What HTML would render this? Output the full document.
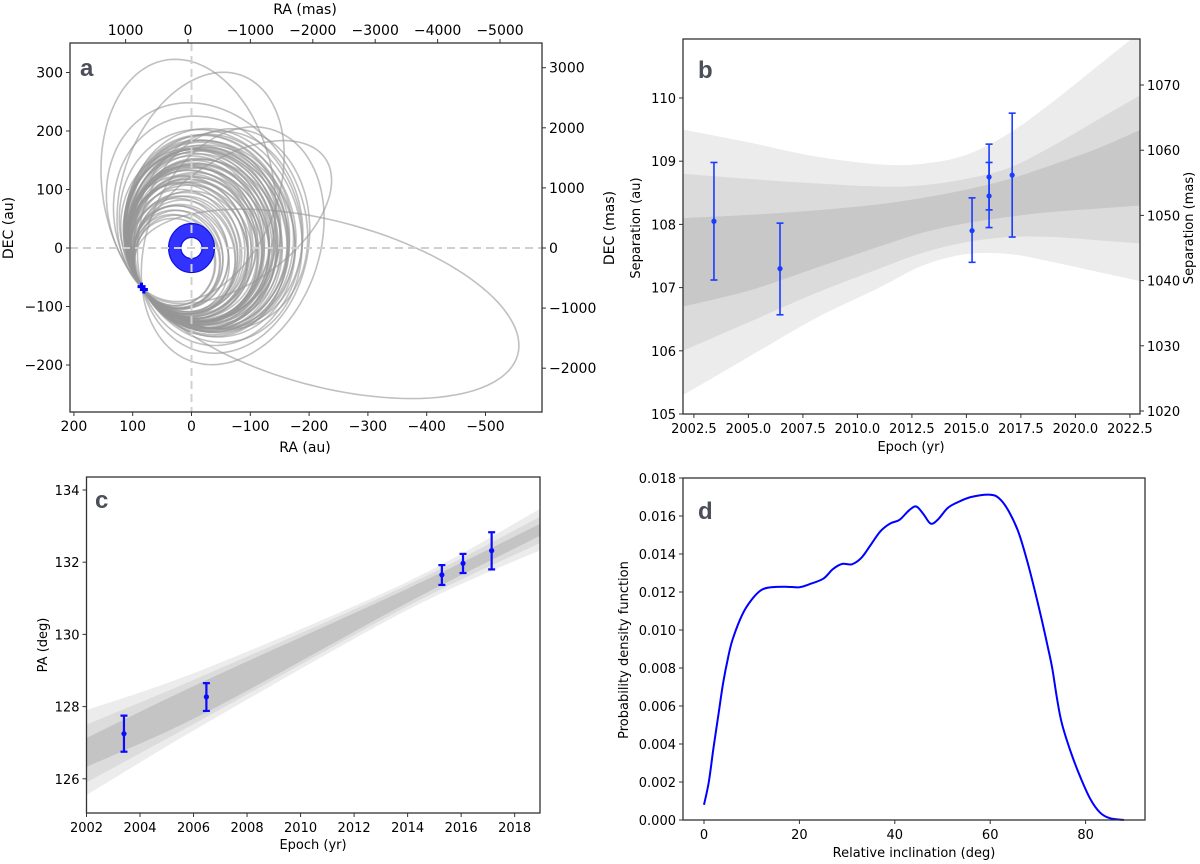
<!DOCTYPE html>
<html><head><meta charset="utf-8"><style>
html,body{margin:0;padding:0;background:#fff;}
svg{display:block;font-family:"DejaVu Sans","Liberation Sans",sans-serif;}
text{fill:#000;}
.tk{font-size:13px;}
.tka{font-size:14px;}
.lab{font-size:13px;}
.labb{font-size:14px;}
.pl{font-size:24px;font-weight:bold;fill:#4a4f5a;font-family:"Liberation Sans",sans-serif;}
</style></head><body>
<svg id="fig" width="1200" height="864" viewBox="0 0 1200 864">
<g id="pa"></g>
<g id="pb"></g>
<g id="pc"></g>
<g id="pd"></g>
</svg>
<script>
// ---------- Panel a data ----------
const orbitSize = [70,72,74,76,78,80,82,84,86,88,90,92,94,96,98,100,101,102,104,105,106,108,109,110,111,112,113,114,115,116,117,118,119,120,121,122,123,124,125,126,127,128,129,130,131,132,133,134,135,136,137,138,139,140,141,142,143,144,145,146,148,150,152,155,158,160,165,170,186,199,191,315];
const orbitDir = [141,139,143,140,142,138,144,141,137,145,140,143,139,142,136,146,141,138,144,140,135,147,142,139,143,137,145,141,138,144,140,136,146,142,139,143,141,137,145,140,138,144,142,136,146,141,139,143,140,137,145,142,138,144,141,136,146,140,143,139,142,138,144,147,135,150,132,155,115,120,144,185];
const orbitTheta = [80,78,82,76,84,80,74,86,79,81,72,88,77,83,75,90,70,80,78,85,73,82,68,92,76,84,79,71,87,80,74,89,78,69,86,81,77,83,75,88,72,80,85,70,78,82,76,84,73,87,79,71,86,80,74,89,77,83,75,81,85,70,78,95,66,100,62,110,80,110,145,15];
const orbitRatio = [0.92,0.90,0.91,0.88,0.90,0.89,0.87,0.91,0.88,0.86,0.89,0.87,0.85,0.90,0.86,0.88,0.84,0.87,0.89,0.85,0.88,0.86,0.90,0.84,0.87,0.85,0.89,0.86,0.83,0.88,0.85,0.87,0.84,0.89,0.82,0.86,0.88,0.83,0.87,0.85,0.84,0.86,0.82,0.85,0.88,0.84,0.86,0.83,0.87,0.85,0.82,0.88,0.84,0.86,0.83,0.87,0.85,0.81,0.86,0.84,0.82,0.85,0.80,0.78,0.83,0.75,0.80,0.70,0.65,0.65,0.55,0.42];
const periPoint = [84,-68];
const diskCenter = [0,0];
const diskOuter = [39,42];
const diskInner = [18,18];
const crossRA = [85,81];
const crossDEC = [-66,-71];
const aRaTicks = [200,100,0,-100,-200,-300,-400,-500];
const aDecTicks = [300,200,100,0,-100,-200];
const aMasTopTicks = [1000,0,-1000,-2000,-3000,-4000,-5000];
const aMasRightTicks = [3000,2000,1000,0,-1000,-2000];

// ---------- Panel b data ----------
const bEpoch = [2003.42,2006.45,2015.26,2016.04,2016.04,2017.10];
const bSep = [108.05,107.30,107.90,108.75,108.45,108.78];
const bLo = [107.12,106.57,107.40,108.23,107.95,107.80];
const bHi = [108.98,108.02,108.42,109.27,108.98,109.76];
const bBandX = [2002,2005,2008,2011,2013,2015,2017,2019,2021,2023];
const bOuterHi = [109.5,109.3,109.08,108.95,108.96,109.1,109.45,109.95,110.5,111.05];
const bOuterLo = [105.3,105.9,106.5,107.0,107.35,107.53,107.53,107.4,107.25,107.1];
const bMidHi = [108.8,108.72,108.65,108.6,108.62,108.72,108.9,109.25,109.65,110.05];
const bMidLo = [106.0,106.45,106.9,107.3,107.55,107.72,107.8,107.8,107.75,107.7];
const bInHi = [108.1,108.15,108.22,108.32,108.42,108.55,108.72,108.95,109.2,109.5];
const bInLo = [106.7,106.95,107.3,107.65,107.87,108.02,108.12,108.2,108.25,108.3];
const bXTicks = [2002.5,2005,2007.5,2010,2012.5,2015,2017.5,2020,2022.5];
const bYTicks = [105,106,107,108,109,110];
const bMasTicks = [1020,1030,1040,1050,1060,1070];

// ---------- Panel c data ----------
const cEpoch = [2003.4,2006.48,2015.28,2016.07,2017.14];
const cPA = [127.25,128.27,131.65,131.97,132.32];
const cLo = [126.75,127.88,131.37,131.70,131.80];
const cHi = [127.75,128.65,131.92,132.23,132.83];
const cBandX = [2002,2006.5,2014,2019];
const cOuterHi = [127.9,129.07,131.46,133.5];
const cOuterLo = [125.55,127.55,130.68,132.35];
const cMidHi = [127.5,128.9,131.37,133.28];
const cMidLo = [125.9,127.72,130.78,132.55];
const cInHi = [127.13,128.74,131.27,133.08];
const cInLo = [126.33,127.85,130.88,132.75];
const cXTicks = [2002,2004,2006,2008,2010,2012,2014,2016,2018];
const cYTicks = [126,128,130,132,134];

// ---------- Panel d data ----------
const dIncl = [0,1,2,3,4,5,6,8,10,12,14,17,20,22,25,27,29,31,33,35,37,39,41,43,44.5,46,47.5,49,51,53,56,60,62,64,66,68,70,72,73,74,75,77,79,81,83,85,88];
const dPdf = [0.0008,0.002,0.0038,0.0055,0.0072,0.0085,0.0095,0.0108,0.0116,0.0121,0.01225,0.01228,0.01225,0.0124,0.0127,0.0132,0.01348,0.01346,0.0138,0.0145,0.0152,0.0156,0.0158,0.0163,0.0165,0.0161,0.0156,0.0158,0.0164,0.0167,0.0170,0.01712,0.0169,0.0162,0.0151,0.0134,0.0114,0.0092,0.0080,0.0064,0.0051,0.0035,0.0022,0.0011,0.0004,0.0001,0.0];
const dXTicks = [0,20,40,60,80];
const dYTicks = [0,0.002,0.004,0.006,0.008,0.010,0.012,0.014,0.016,0.018];

const NS = "http://www.w3.org/2000/svg";
function mk(parent, tag, attrs){const e=document.createElementNS(NS,tag);for(const k in attrs)e.setAttribute(k,attrs[k]);parent.appendChild(e);return e;}
function fmt(v){return v<0?"\u2212"+String(-v):String(v);}
function smooth(pts, start){
  let d=(start?"M":"L")+pts[0][0].toFixed(1)+","+pts[0][1].toFixed(1);
  for(let i=0;i<pts.length-1;i++){
    const p0=pts[Math.max(0,i-1)],p1=pts[i],p2=pts[i+1],p3=pts[Math.min(pts.length-1,i+2)];
    const c1=[p1[0]+(p2[0]-p0[0])/6,p1[1]+(p2[1]-p0[1])/6];
    const c2=[p2[0]-(p3[0]-p1[0])/6,p2[1]-(p3[1]-p1[1])/6];
    d+="C"+c1[0].toFixed(1)+","+c1[1].toFixed(1)+" "+c2[0].toFixed(1)+","+c2[1].toFixed(1)+" "+p2[0].toFixed(1)+","+p2[1].toFixed(1);
  }
  return d;
}

function frame(g, x0,y0,x1,y1, name){
  const r = mk(g,"rect",{x:x0,y:y0,width:x1-x0,height:y1-y0,fill:"none",stroke:"#333","stroke-width":1.3});
  
  
}
function label(g,x,y,txt,cls,anchor,rot,name){
  const t = mk(g,"text",{x:x,y:y,"class":cls,"text-anchor":anchor||"middle"});
  if(rot) t.setAttribute("transform","rotate(-90 "+x+" "+y+")");
  t.textContent = txt;
  
  
  return t;
}
function xTicks(g,ticks,sx,yb,cls,dir,fmtf,name){
  ticks.forEach(v=>{
    const x=sx(v);
    const l=mk(g,"line",{x1:x,x2:x,y1:yb,y2:yb+dir*4,stroke:"#333","stroke-width":1});
    
    
    label(g,x,dir>0?yb+19:yb-8,fmtf(v),cls,"middle",false,name+'-label');
  });
}
function yTicks(g,ticks,sy,xb,cls,dir,fmtf,name){
  ticks.forEach(v=>{
    const y=sy(v);
    const l=mk(g,"line",{x1:xb,x2:xb+dir*4,y1:y,y2:y,stroke:"#333","stroke-width":1});
    
    
    label(g,dir<0?xb-7:xb+7,y+5,fmtf(v),cls,dir<0?"end":"start",false,name+'-label');
  });
}
function band(g,xs,lo,hi,sx,sy,fill,name,sm){
  const top=xs.map((x,i)=>[sx(x),sy(hi[i])]);
  const bot=xs.map((x,i)=>[sx(x),sy(lo[i])]).reverse();
  let d;
  if(sm) d=smooth(top,true)+smooth(bot,false)+"Z";
  else d="M"+top.map(p=>p.join(",")).join("L")+"L"+bot.map(p=>p.join(",")).join("L")+"Z";
  const p=mk(g,"path",{d:d,fill:fill,stroke:"none"});
  
  
}
function errbars(g,xs,ys,lo,hi,sx,sy,color,w,name){
  xs.forEach((x,i)=>{
    const X=sx(x);
    const grp=mk(g,"g",{});
    
    
    mk(grp,"line",{x1:X,x2:X,y1:sy(lo[i]),y2:sy(hi[i]),stroke:color,"stroke-width":w});
    mk(grp,"line",{x1:X-3.5,x2:X+3.5,y1:sy(lo[i]),y2:sy(lo[i]),stroke:color,"stroke-width":w});
    mk(grp,"line",{x1:X-3.5,x2:X+3.5,y1:sy(hi[i]),y2:sy(hi[i]),stroke:color,"stroke-width":w});
    mk(grp,"circle",{cx:X,cy:sy(ys[i]),r:2.6,fill:color});
  });
}

// ---------- Panel a ----------
(function(){
  const g=document.getElementById("pa");
  const X0=70,X1=542,Y0=43,Y1=412;
  const sx=ra=>191.5-ra*0.588, sy=de=>248-de*0.585;
  const cl=mk(g,"clipPath",{id:"clipA"}); mk(cl,"rect",{x:X0,y:Y0,width:X1-X0,height:Y1-Y0});
  const inner=mk(g,"g",{"clip-path":"url(#clipA)"});
  orbitSize.forEach((s,i)=>{
    const dr=orbitDir[i]*Math.PI/180;
    const cx=periPoint[0]+s*Math.cos(dr), cy=periPoint[1]+s*Math.sin(dr);
    const th=orbitTheta[i]*Math.PI/180, q=orbitRatio[i];
    const rx=periPoint[0]-cx, ry=periPoint[1]-cy;
    const u=rx*Math.cos(th)+ry*Math.sin(th), v=-rx*Math.sin(th)+ry*Math.cos(th);
    const a=Math.sqrt(u*u+(v*v)/(q*q)), b=a*q;
    let d="";
    for(let k=0;k<=120;k++){
      const t=k/120*2*Math.PI;
      const px=cx+a*Math.cos(t)*Math.cos(th)-b*Math.sin(t)*Math.sin(th);
      const py=cy+a*Math.cos(t)*Math.sin(th)+b*Math.sin(t)*Math.cos(th);
      d+=(k?"L":"M")+sx(px).toFixed(1)+","+sy(py).toFixed(1);
    }
    const p=mk(inner,"path",{d:d,fill:"none",stroke:"rgba(150,150,150,0.6)","stroke-width":1.6});
    
    
  });
  const ox=diskOuter[0]*0.588, oy=diskOuter[1]*0.585, ix=diskInner[0]*0.588, iy=diskInner[1]*0.585;
  const cxs=sx(diskCenter[0]), cys=sy(diskCenter[1]);
  const disk=mk(inner,"path",{d:"M"+(cxs-ox)+","+cys+" a"+ox+","+oy+" 0 1,0 "+(2*ox)+",0 a"+ox+","+oy+" 0 1,0 "+(-2*ox)+",0Z"+
    " M"+(cxs-ix)+","+cys+" a"+ix+","+iy+" 0 1,1 "+(2*ix)+",0 a"+ix+","+iy+" 0 1,1 "+(-2*ix)+",0Z",
    fill:"#3333ff",stroke:"#1010dd","stroke-width":1.2,"fill-rule":"evenodd"});
  
  
  const h=mk(inner,"line",{x1:X0,x2:X1,y1:sy(0),y2:sy(0),stroke:"#d0d0d0","stroke-width":2,"stroke-dasharray":"8,5"});
  
  
  const v=mk(inner,"line",{x1:sx(0),x2:sx(0),y1:Y0,y2:Y1,stroke:"#d0d0d0","stroke-width":2,"stroke-dasharray":"8,5"});
  
  
  crossRA.forEach((r,i)=>{
    const X=sx(r),Y=sy(crossDEC[i]);
    const c=mk(inner,"path",{d:"M"+(X-4)+","+Y+"H"+(X+4)+"M"+X+","+(Y-4)+"V"+(Y+4),stroke:"#0000ff","stroke-width":3});
    
    
  });
  frame(g,X0,Y0,X1,Y1,"panel-a-frame");
  xTicks(g,aRaTicks,sx,Y1,"tka",1,fmt,"ra-au-axis");
  yTicks(g,aDecTicks,sy,X0,"tka",-1,fmt,"dec-au-axis");
  xTicks(g,aMasTopTicks,m=>188-m*0.0624,Y0,"tka",-1,fmt,"ra-mas-axis");
  yTicks(g,aMasRightTicks,m=>248-m*0.0601,X1,"tka",1,fmt,"dec-mas-axis");
  label(g,305,452,"RA (au)","labb","middle",false,"x-axis-title-ra-au");
  label(g,305,14,"RA (mas)","labb","middle",false,"x-axis-title-ra-mas");
  label(g,13,228,"DEC (au)","labb","middle",true,"y-axis-title-dec-au");
  label(g,80,76,"a","pl","start",false,"panel-label-a");
})();

// ---------- Panel b ----------
(function(){
  const g=document.getElementById("pb");
  const X0=683,X1=1140,Y0=39,Y1=414;
  const sx=t=>X0+(t-2002)*21.8, sy=s=>414-(s-105)*63.2;
  const cl=mk(g,"clipPath",{id:"clipB"}); mk(cl,"rect",{x:X0,y:Y0,width:X1-X0,height:Y1-Y0});
  const inner=mk(g,"g",{"clip-path":"url(#clipB)"});
  band(inner,bBandX,bOuterLo,bOuterHi,sx,sy,"#ececec","band-outer",true);
  band(inner,bBandX,bMidLo,bMidHi,sx,sy,"#dbdbdb","band-middle",true);
  band(inner,bBandX,bInLo,bInHi,sx,sy,"#c8c8c8","band-inner",true);
  errbars(inner,bEpoch,bSep,bLo,bHi,sx,sy,"#1a3cff",1.6,"separation-point");
  frame(g,X0,Y0,X1,Y1,"panel-b-frame");
  xTicks(g,bXTicks,sx,Y1,"tk",1,v=>v.toFixed(1),"epoch-axis");
  yTicks(g,bYTicks,sy,X0,"tk",-1,String,"separation-au-axis");
  yTicks(g,bMasTicks,m=>411-(m-1020)*6.52,X1,"tk",1,String,"separation-mas-axis");
  label(g,911,451,"Epoch (yr)","lab","middle",false,"x-axis-title-epoch");
  label(g,614,228,"DEC (mas)","labb","middle",true,"y-axis-title-dec-mas");
  label(g,640,228,"Separation (au)","lab","middle",true,"y-axis-title-separation-au");
  label(g,1193,228,"Separation (mas)","lab","middle",true,"y-axis-title-separation-mas");
  label(g,698,78,"b","pl","start",false,"panel-label-b");
})();

// ---------- Panel c ----------
(function(){
  const g=document.getElementById("pc");
  const X0=86.5,X1=540,Y0=477,Y1=813;
  const sx=t=>X0+(t-2002)*26.76, sy=p=>490+(134-p)*36.1;
  const cl=mk(g,"clipPath",{id:"clipC"}); mk(cl,"rect",{x:X0,y:Y0,width:X1-X0,height:Y1-Y0});
  const inner=mk(g,"g",{"clip-path":"url(#clipC)"});
  band(inner,cBandX,cOuterLo,cOuterHi,sx,sy,"#ececec","band-outer",true);
  band(inner,cBandX,cMidLo,cMidHi,sx,sy,"#dcdcdc","band-middle",true);
  band(inner,cBandX,cInLo,cInHi,sx,sy,"#c4c4c4","band-inner",true);
  errbars(inner,cEpoch,cPA,cLo,cHi,sx,sy,"#0a0aff",2.2,"pa-point");
  frame(g,X0,Y0,X1,Y1,"panel-c-frame");
  xTicks(g,cXTicks,sx,Y1,"tk",1,String,"epoch-axis");
  yTicks(g,cYTicks,sy,X0,"tk",-1,String,"pa-axis");
  label(g,313,849,"Epoch (yr)","lab","middle",false,"x-axis-title-epoch");
  label(g,47,645,"PA (deg)","lab","middle",true,"y-axis-title-pa");
  label(g,95,508,"c","pl","start",false,"panel-label-c");
})();

// ---------- Panel d ----------
(function(){
  const g=document.getElementById("pd");
  const X0=683,X1=1145,Y0=478,Y1=820;
  const sx=i=>704+i*4.77, sy=p=>820-p/0.018*342;
  const pts=dIncl.map((x,i)=>[sx(x),sy(dPdf[i])]);
  const p=mk(g,"path",{d:smooth(pts,true),fill:"none",stroke:"#0000ff","stroke-width":2,"stroke-linejoin":"round"});
  
  
  frame(g,X0,Y0,X1,Y1,"panel-d-frame");
  xTicks(g,dXTicks,sx,Y1,"tk",1,String,"inclination-axis");
  yTicks(g,dYTicks,sy,X0,"tk",-1,v=>v.toFixed(3),"pdf-axis");
  label(g,914,857,"Relative inclination (deg)","lab","middle",false,"x-axis-title-inclination");
  label(g,628,650,"Probability density function","lab","middle",true,"y-axis-title-pdf");
  label(g,698,519,"d","pl","start",false,"panel-label-d");
})();
</script>
</body></html>
